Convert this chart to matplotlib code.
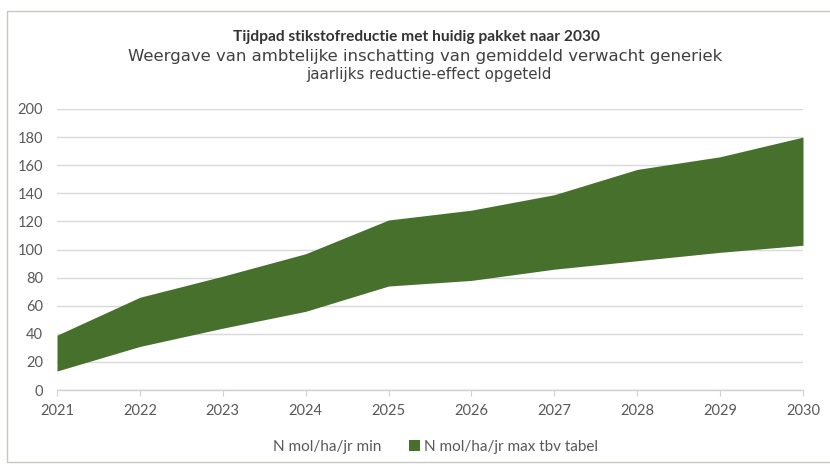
import matplotlib
matplotlib.use("Agg")
import matplotlib.pyplot as plt
from matplotlib.patches import Patch, Rectangle
import numpy as np

years = [2021, 2022, 2023, 2024, 2025, 2026, 2027, 2028, 2029, 2030]
n_min = [13.5, 31, 44, 56, 74, 78, 86, 92, 98, 103]
n_max = [39, 66, 81, 97, 121, 128, 139, 157, 166, 180]
yticks = [0, 20, 40, 60, 80, 100, 120, 140, 160, 180, 200]
title = "Tijdpad stikstofreductie met huidig pakket naar 2030"
sub1 = "Weergave van ambtelijke inschatting van gemiddeld verwacht generiek"
sub2 = "jaarlijks reductie-effect opgeteld"
labels = ["N mol/ha/jr min", "N mol/ha/jr max tbv tabel"]

green = "#47702c"
txt = "#595959"
plt.rcParams['font.family'] = ['Lato', 'DejaVu Sans']

W, H = 830, 470
fig = plt.figure(figsize=(W/100, H/100), dpi=100)
fig.patch.set_facecolor("white")
fig.patches.append(Rectangle((7/W, 1 - 462/H), (840-7)/W, (462-11)/H,
                             transform=fig.transFigure, fill=False,
                             edgecolor="#c8c8c0", linewidth=1.0))

ax = fig.add_axes([57/W, 1 - 390/H, (803-57)/W, (390-109)/H])
ax.fill_between(years, n_min, n_max, color=green, linewidth=0, zorder=3)
ax.set_xlim(years[0], years[-1])
ax.set_ylim(0, 200)
ax.set_yticks(yticks)
ax.set_xticks(years)
ax.set_xticklabels([str(y) for y in years])
ax.grid(axis='y', color="#d9d9d9", linewidth=1.0, zorder=0)
ax.set_axisbelow(True)
for s in ['top', 'right', 'left']:
    ax.spines[s].set_visible(False)
ax.spines['bottom'].set_color("#d0d0d0")
ax.spines['bottom'].set_linewidth(1.0)
ax.tick_params(axis='y', length=0, pad=10, labelsize=10.5, labelcolor=txt)
ax.tick_params(axis='x', length=4, direction='out', color="#d0d0d0",
               pad=6, labelsize=10.5, labelcolor=txt)

renderer = fig.canvas.get_renderer()

def fitted_text(x, y, s, target_w, **kw):
    t = fig.text(x, y, s, ha='center', va='center', fontsize=10, **kw)
    w = t.get_window_extent(renderer).width
    t.set_fontsize(10 * target_w / w)
    return t

fitted_text(416/W, 1 - 37/H, title, 367, fontweight='bold', color="#333333",
            family=['Lato', 'DejaVu Sans'])
fitted_text(425/W, 1 - 56/H, sub1, 594, color="#404040", family=['DejaVu Sans'])
fitted_text(429/W, 1 - 74/H, sub2, 244, color="#404040", family=['DejaVu Sans'])

handles = [Patch(facecolor='none', edgecolor='none'), Patch(facecolor=green, edgecolor='none')]
fig.legend(handles, labels, loc='center', bbox_to_anchor=(428/W, 1 - 447/H),
           ncol=2, frameon=False, fontsize=11, labelcolor=txt,
           handlelength=0.7, handleheight=0.7, handletextpad=0.3, columnspacing=1.8)

fig.savefig("out.png", dpi=100)
